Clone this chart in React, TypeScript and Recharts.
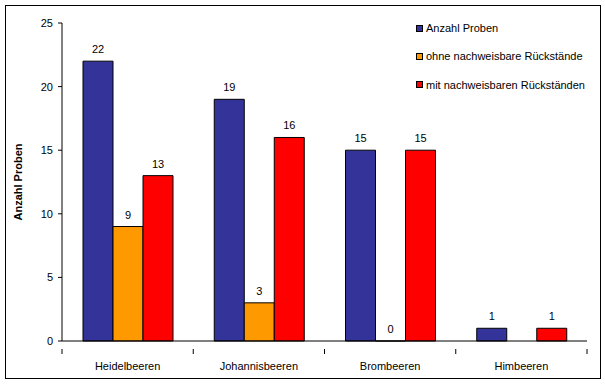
import { BarChart, Bar, XAxis, YAxis, LabelList } from 'recharts';

const categories = ['Heidelbeeren', 'Johannisbeeren', 'Brombeeren', 'Himbeeren'];
const anzahlProben = [22, 19, 15, 1];
const ohneRueckstaende: (number | null)[] = [9, 3, 0, null];
const mitRueckstaenden = [13, 16, 15, 1];
const yTicks = [0, 5, 10, 15, 20, 25];

const seriesNames = [
  'Anzahl Proben',
  'ohne nachweisbare Rückstände',
  'mit nachweisbaren Rückständen',
];
const seriesColors = ['#333399', '#FF9900', '#FF0000'];

const data = categories.map((name, i) => ({
  name,
  anzahl: anzahlProben[i],
  ohne: ohneRueckstaende[i],
  mit: mitRueckstaenden[i],
}));

const WIDTH = 605;
const HEIGHT = 384;
const Y_AXIS_W = 62;
const X_AXIS_H = 30;
const MARGIN = { top: 23, right: 18, bottom: 13, left: 0 };
const BAND = (WIDTH - Y_AXIS_W - MARGIN.right) / categories.length;
const FONT = 'Liberation Sans, Arial, sans-serif';

function CategoryTick(props: any) {
  const { x, y, payload, index } = props;
  const left = x - BAND / 2;
  return (
    <g>
      <line x1={left} y1={y} x2={left} y2={y + 5} stroke="#000" />
      {index === categories.length - 1 && (
        <line x1={x + BAND / 2} y1={y} x2={x + BAND / 2} y2={y + 5} stroke="#000" />
      )}
      <text x={x} y={y + 21} textAnchor="middle" fontSize={11} fontFamily={FONT} fill="#000">
        {payload.value}
      </text>
    </g>
  );
}

function ValueLabel(props: any) {
  const { x, y, width, value } = props;
  if (value === null || value === undefined) return null;
  return (
    <text x={x + width / 2} y={y - 8} textAnchor="middle" fontSize={11} fontFamily={FONT} fill="#000">
      {value}
    </text>
  );
}

// legend drawn as a plain overlay so it takes no room from the plot
function ChartLegend() {
  return (
    <div
      style={{
        position: 'absolute',
        left: 416,
        top: 14,
        fontFamily: FONT,
        fontSize: 11,
        color: '#000',
        pointerEvents: 'none',
      }}
    >
      {seriesNames.map((n, i) => (
        <div key={n} style={{ display: 'flex', alignItems: 'center', height: 28.3 }}>
          <span
            style={{
              display: 'inline-block',
              width: 5,
              height: 5,
              background: seriesColors[i],
              border: '1px solid #000',
              marginRight: 3,
            }}
          />
          {n}
        </div>
      ))}
    </div>
  );
}

export default function App() {
  return (
    <div style={{ position: 'absolute', left: 0, top: 0, width: WIDTH, height: HEIGHT, background: '#fff' }}>
      <style>{'body{margin:0}'}</style>
      <div
        style={{
          position: 'absolute',
          left: 5,
          top: 5,
          width: 594,
          height: 372,
          border: '1px solid #000',
          pointerEvents: 'none',
        }}
      />
      <BarChart
        width={WIDTH}
        height={HEIGHT}
        data={data}
        margin={MARGIN}
        barCategoryGap={21}
        barGap={0}
      >
        <XAxis
          dataKey="name"
          stroke="#000"
          tickLine={false}
          tick={<CategoryTick />}
          interval={0}
          height={X_AXIS_H}
        />
        <YAxis
          domain={[0, 25]}
          ticks={yTicks}
          stroke="#000"
          tickSize={4}
          tickMargin={5}
          tick={{ fontSize: 11, fontFamily: FONT, fill: '#000' }}
          width={Y_AXIS_W}
          label={{
            value: 'Anzahl Proben',
            angle: -90,
            position: 'insideLeft',
            offset: 18,
            style: { fontSize: 11, fontWeight: 'bold', fontFamily: FONT, fill: '#000', textAnchor: 'middle' },
          }}
        />
        <Bar dataKey="anzahl" name={seriesNames[0]} fill={seriesColors[0]} stroke="#000" isAnimationActive={false}>
          <LabelList dataKey="anzahl" content={<ValueLabel />} />
        </Bar>
        <Bar
          dataKey="ohne"
          name={seriesNames[1]}
          fill={seriesColors[1]}
          stroke="#000"
          minPointSize={0.01}
          isAnimationActive={false}
        >
          <LabelList dataKey="ohne" content={<ValueLabel />} />
        </Bar>
        <Bar dataKey="mit" name={seriesNames[2]} fill={seriesColors[2]} stroke="#000" isAnimationActive={false}>
          <LabelList dataKey="mit" content={<ValueLabel />} />
        </Bar>
      </BarChart>
      <ChartLegend />
    </div>
  );
}
